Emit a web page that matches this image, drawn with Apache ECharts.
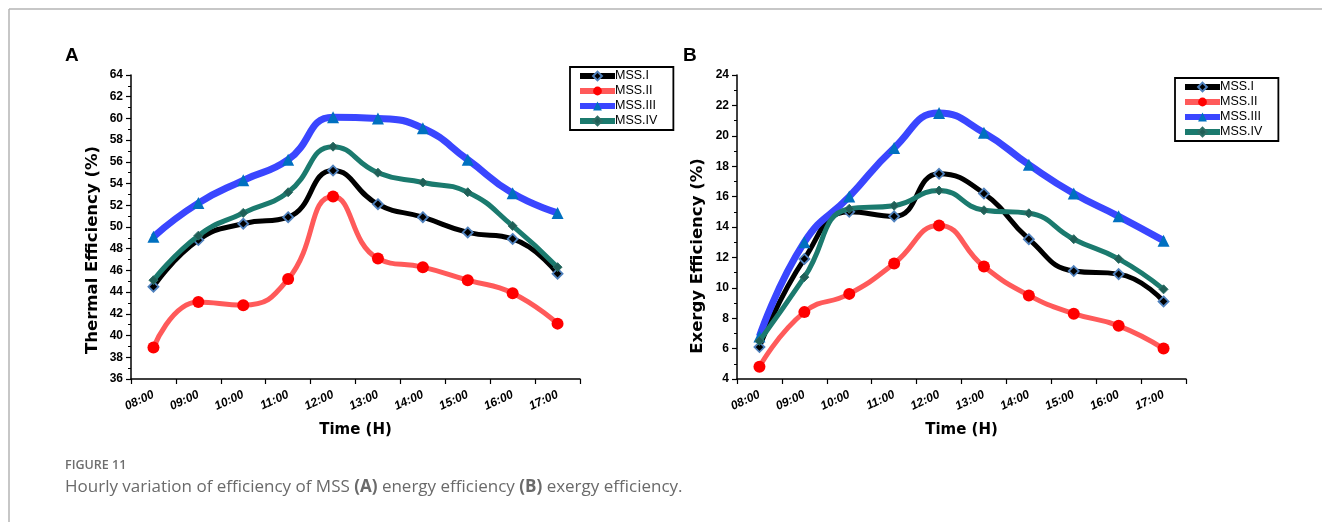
<!DOCTYPE html>
<html><head><meta charset="utf-8">
<script src="https://cdn.jsdelivr.net/npm/echarts@6/dist/echarts.min.js"></script>
<style>html,body{margin:0;padding:0;background:#fff}#c{width:1322px;height:522px}</style>
</head><body><div id="c"></div>
<script>
const times = ['08:00','09:00','10:00','11:00','12:00','13:00','14:00','15:00','16:00','17:00'];
const seriesNames = ['MSS.I','MSS.II','MSS.III','MSS.IV'];
const yTitleA = 'Thermal Efficiency (%)';
const yTitleB = 'Exergy Efficiency (%)';
// Panel A: thermal efficiency (%)
const thermalMSS1 = [44.5, 48.8, 50.3, 50.9, 55.2, 52.1, 50.9, 49.5, 48.9, 45.7];
const thermalMSS2 = [38.9, 43.1, 42.8, 45.2, 52.8, 47.1, 46.3, 45.1, 43.9, 41.1];
const thermalMSS3 = [49.1, 52.2, 54.3, 56.2, 60.1, 60.0, 59.1, 56.2, 53.1, 51.3];
const thermalMSS4 = [45.1, 49.2, 51.3, 53.2, 57.4, 55.0, 54.1, 53.2, 50.1, 46.3];
// Panel B: exergy efficiency (%)
const exergyMSS1 = [6.1, 11.9, 15.0, 14.7, 17.5, 16.2, 13.2, 11.1, 10.9, 9.1];
const exergyMSS2 = [4.8, 8.4, 9.6, 11.6, 14.1, 11.4, 9.5, 8.3, 7.5, 6.0];
const exergyMSS3 = [6.8, 13.0, 16.0, 19.2, 21.5, 20.2, 18.1, 16.2, 14.7, 13.1];
const exergyMSS4 = [6.5, 10.7, 15.2, 15.4, 16.4, 15.1, 14.9, 13.2, 11.9, 9.9];

const styles = [
  {line:'#000000', w:5, symbol:'diamond', size:10, fill:'#000000', border:'#4f81bd', bw:1.8},
  {line:'#ff5a5a', w:5, symbol:'circle', size:12, fill:'#ff0000', border:'#ff0000', bw:0},
  {line:'#3a46ff', w:7, symbol:'triangle', size:12, fill:'#0070c0', border:'#0070c0', bw:0},
  {line:'#1b7a6e', w:5, symbol:'diamond', size:9, fill:'#1f5f57', border:'#2e6f66', bw:1}
];
const FONT = 'DejaVu Sans, Liberation Sans, Arial, sans-serif';
const TFONT = 'Liberation Sans, Arial, sans-serif';

function mkSeries(dataArr, gi){
  return dataArr.map((d,i)=>({
    name: seriesNames[i], type:'line', xAxisIndex:gi, yAxisIndex:gi,
    data:d, smooth:0.5, symbol:styles[i].symbol, symbolSize:styles[i].size,
    showAllSymbol:true,
    lineStyle:{color:styles[i].line, width:styles[i].w},
    itemStyle:{color:styles[i].fill, borderColor:styles[i].border, borderWidth:styles[i].bw},
    emphasis:{disabled:true}, z:2+i, animation:false
  }));
}
function xAxis(gi){
  return {type:'category', gridIndex:gi, data:times, boundaryGap:true,
    name:'Time (H)', nameLocation:'middle', nameGap:44,
    nameTextStyle:{fontFamily:FONT, fontWeight:'bold', fontSize:15, color:'#000'},
    axisLine:{lineStyle:{color:'#000', width:1.5}},
    axisTick:{show:true, interval:0, length:5, lineStyle:{color:'#000', width:1.2}},
    axisLabel:{interval:0, rotate:25, margin:15, fontFamily:TFONT, fontWeight:'bold', fontStyle:'italic', fontSize:12, color:'#000'},
    splitLine:{show:false}};
}
function yAxis(gi, min, max){
  return {type:'value', gridIndex:gi, min:min, max:max, interval:2,
    axisLine:{show:true, lineStyle:{color:'#000', width:1.5}},
    axisTick:{show:true, length:5, lineStyle:{color:'#000', width:1.2}},
    minorTick:{show:true, splitNumber:2, length:3, lineStyle:{color:'#000', width:1}},
    axisLabel:{margin:8, fontFamily:TFONT, fontWeight:'bold', fontSize:12, color:'#000'},
    splitLine:{show:false}};
}
function legend(left, top){
  return {data:seriesNames, left:left, top:top, orient:'vertical',
    borderColor:'#000', borderWidth:1.8, padding:[2,16,2,7], itemGap:1,
    itemWidth:35, itemHeight:11, selectedMode:false,
    lineStyle:{width:6},
    textStyle:{fontFamily:'Liberation Sans Narrow, Liberation Sans, Arial', fontSize:12.5, lineHeight:14, color:'#000', padding:[0,0,0,-5]}};
}

const chart = echarts.init(document.getElementById('c'), null, {renderer:'canvas'});
chart.setOption({
  animation:false,
  backgroundColor:'#fff',
  grid:[
    {left:131, top:75, width:449, height:304},
    {left:737, top:75, width:449, height:304}
  ],
  xAxis:[xAxis(0), xAxis(1)],
  yAxis:[yAxis(0,36,64), yAxis(1,4,24)],
  legend:[legend(570,67), legend(1175,78)],
  series:[].concat(
    mkSeries([thermalMSS1, thermalMSS2, thermalMSS3, thermalMSS4], 0),
    mkSeries([exergyMSS1, exergyMSS2, exergyMSS3, exergyMSS4], 1)
  ),
  graphic:[
    {type:'line', shape:{x1:9, y1:9, x2:1322, y2:9}, style:{stroke:'#b4b4b4', lineWidth:1.5}},
    {type:'line', shape:{x1:9, y1:9, x2:9, y2:522}, style:{stroke:'#b4b4b4', lineWidth:1.5}},
    {type:'text', left:65, top:46, style:{text:'A', font:'bold 19px Liberation Sans, Arial', fill:'#000'}},
    {type:'text', left:683, top:46, style:{text:'B', font:'bold 19px Liberation Sans, Arial', fill:'#000'}},
    {type:'text', x:93, y:250, rotation:Math.PI/2, style:{text:yTitleA, align:'center', verticalAlign:'middle', font:'bold 16.5px DejaVu Sans, Arial', fill:'#000'}},
    {type:'text', x:698, y:256, rotation:Math.PI/2, style:{text:yTitleB, align:'center', verticalAlign:'middle', font:'bold 16.5px DejaVu Sans, Arial', fill:'#000'}},
    {type:'text', left:65, top:459, style:{text:'FIGURE 11', font:'600 12.5px Open Sans, sans-serif', fill:'#6e6e6e'}},
    {type:'text', left:65, top:479, style:{
      text:'Hourly variation of efficiency of MSS {b|(A)} energy efficiency {b|(B)} exergy efficiency.',
      font:'17px Open Sans, sans-serif', fill:'#6a6a6a',
      rich:{b:{font:'bold 17px Open Sans, sans-serif', fill:'#6a6a6a'}}}}
  ]
});
</script></body></html>
